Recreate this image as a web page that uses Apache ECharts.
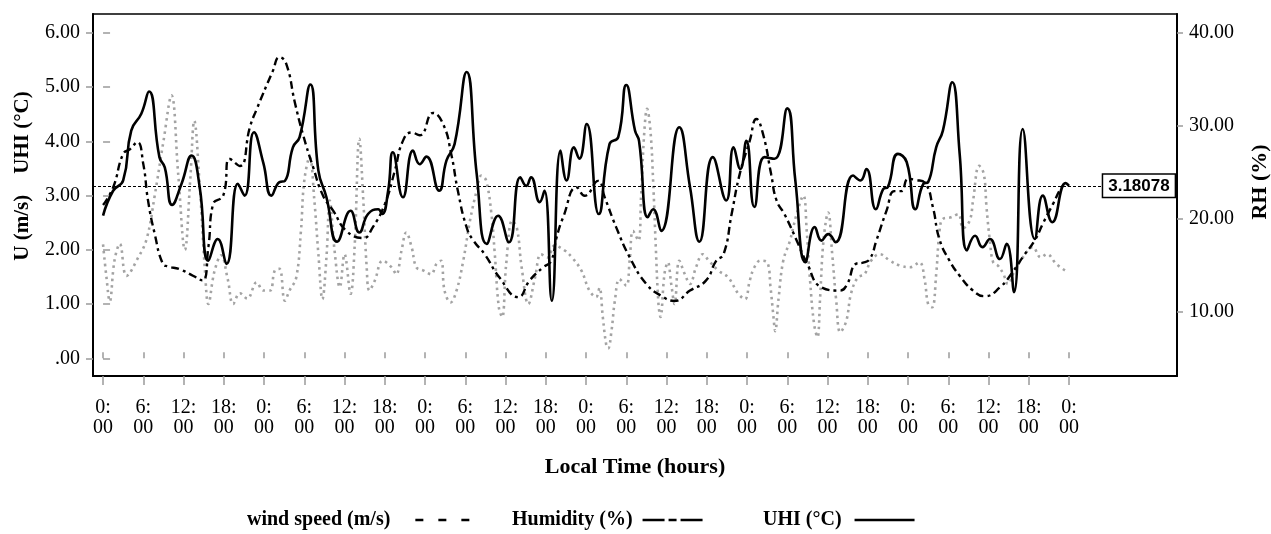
<!DOCTYPE html>
<html><head><meta charset="utf-8">
<script src="https://cdn.jsdelivr.net/npm/echarts@6/dist/echarts.min.js"></script>
<style>html,body{margin:0;padding:0;background:#fff}#c{width:1271px;height:534px}</style>
</head><body><div id="c"></div>
<script>
// ---- data (hours since start, values) ----
const uhiHours = [0,1.5,3,4.2,5.7,6.85,8.4,9.2,10.3,11.7,13.2,14.4,15.7,17.1,18.4,20.1,21.1,22.5,23.9,25.1,26.3,27.1,28.3,29.3,30.9,32.1,33.3,34.9,36.9,38.2,39.5,41,41.6,42.5,43.2,44.7,46.2,47.2,48.2,50.1,51.2,52.4,54.2,55.7,57.2,58.9,60.5,62.2,63.1,63.8,65.1,65.8,66.9,68.2,69.1,70.2,71,72.1,73.9,75.5,76.8,78,79.3,79.9,81.2,82,83.2,85.9,87.5,88.9,90.9,92.9,94,95,95.9,97.1,98.6,100.1,102,103.2,104.7,106.1,107.1,108.1,109.2,111.8,112.9,113.8,115.2,116.3,117,118.5,119.8,121.1,122.3,123,124.2,125.2,126.6,127.7,128.8,130,131.1,132.2,133.7,134.7,135.8,137.1,138.9,140.1,141.5,143.5,144];
const uhiValues = [2.63,3.09,3.28,4.2,4.51,4.92,3.71,3.52,2.83,3.22,3.74,3.16,1.8,2.2,1.74,3.22,3.0,4.17,3.6,3.0,3.25,3.27,3.89,4.08,5.05,3.46,2.97,2.15,2.72,2.32,2.66,2.75,2.66,3.09,3.8,2.97,3.83,3.58,3.72,3.09,3.65,3.95,5.28,3.4,2.11,2.63,2.14,3.34,3.18,3.34,2.88,3.09,1.06,3.83,3.28,3.89,3.68,4.32,2.66,3.95,4.08,5.04,4.2,4.01,2.6,2.75,2.35,4.26,3.16,2.15,3.71,2.91,3.89,3.49,4.01,2.79,3.71,3.68,4.61,3.28,1.77,2.42,2.17,2.29,2.14,3.37,3.28,3.49,2.75,3.12,3.16,3.77,3.62,2.75,3.22,3.25,3.89,4.2,5.09,3.77,1.99,2.26,2.05,2.2,1.83,2.11,1.22,4.23,2.2,3.0,2.51,3.23,3.18];

const rhHours = [0,1.5,3,4,5.1,6,6.7,7.7,8.9,9.7,11.4,13.4,14.8,15.7,16.4,17.9,18.9,20.4,21.9,22.9,25.3,26.3,27.3,28.6,29.8,31.3,32.8,34.3,36.3,38.8,40.2,42,43.5,44.7,46,47.2,49.2,50.7,51.9,52.9,54.2,55.2,56.9,59.1,61.9,63.6,65.6,66.8,67.6,68.6,70.6,71.8,73.8,74.8,76.5,78.5,81,83.2,85.2,87.5,89.9,91.4,92.5,93.7,94.9,96.4,97.4,98.4,99.6,100.4,101.6,103.4,104.9,107.1,109.8,110.8,112.3,113.3,114.3,115.3,116.8,118,119,120,121.2,122.6,123.7,124.7,126.2,127.7,129.7,131.4,133.7,135.7,137.1,138.9,140.1,141.6,142.9,143.6];
const rhValues = [21.5,23.4,27.0,27.5,28.25,25.9,22.0,18.4,15.2,14.9,14.6,13.9,13.4,17.0,21.6,22.5,26.45,25.7,29.9,31.8,35.9,37.4,36.7,32.5,29.1,25.6,22.5,20.9,18.7,17.96,19.1,21.6,25.2,28.4,29.3,29.0,31.4,30.2,27.0,23.0,19.1,17.7,16.2,13.7,11.6,13.4,14.8,15.5,18.0,20.2,23.4,22.5,24.1,22.3,19.1,15.9,13.0,11.75,11.2,12.3,13.4,15.5,16.2,20.5,24.8,28.4,30.75,29.1,24.8,22.0,20.5,17.7,15.3,12.65,12.3,12.8,15.2,15.3,15.7,17.7,20.9,23.0,23.0,24.3,24.2,23.8,21.3,17.8,15.5,13.9,12.3,11.7,12.65,14.4,15.9,17.7,19.5,21.6,23.4,23.8];

const windHours = [0,0.5,1,1.7,2.5,3.5,5.2,6.5,7.7,9,10.2,11.2,12.2,13,13.6,14.4,15.2,15.7,16.6,17.6,18.6,19.4,20.4,21.5,22.9,23.9,24.9,25.6,26.3,27.1,27.8,28.8,29.5,30,30.8,31.5,32.1,32.7,33.3,33.8,34.5,35.3,36,36.9,37.5,38.2,38.8,39.3,39.7,40.5,41.7,43,43.7,44.5,45.2,46,46.7,47.7,48.9,49.7,50.4,50.9,51.8,52.7,53.7,54.7,55.7,56.4,57.1,57.9,58.4,59,59.5,60.1,61,61.7,62.4,63.4,64.4,65.3,66.3,67.3,68.8,69.9,71.3,72.5,73.5,74,74.5,75,75.3,75.8,76.3,77,78,78.5,79,79.8,80.2,80.7,81.1,81.6,82,82.4,82.8,83.1,83.7,84.2,84.7,85.2,85.9,86.7,87.5,88.4,89.4,90.3,91.7,93.2,94.7,95.7,96.4,97.1,98,99,99.5,99.9,100.2,100.7,101.4,102.4,103.4,104.4,104.9,105.4,106,106.5,106.9,107.4,108.1,108.7,109.3,109.9,110.8,111.5,112.5,113.5,114.5,115.8,117.3,118.8,120.3,121.7,122.5,123,123.6,124.2,124.7,125.2,126.4,127.5,128.2,129.2,129.7,130.6,131.3,131.7,132.2,132.7,133.4,134.2,134.9,135.9,137.1,138.6,139.8,140.7,142.1,143.4];
const windValues = [2.1,1.5,1.05,1.8,2.11,1.52,1.85,2.2,3.0,4.0,4.85,3.4,2.0,3.3,4.38,3.2,1.6,1.0,1.6,1.9,1.45,1.0,1.2,1.1,1.4,1.25,1.25,1.62,1.65,1.06,1.25,1.49,2.35,3.28,3.71,2.91,1.92,1.09,1.86,2.91,2.0,1.31,1.92,1.19,2.05,4.05,2.91,1.68,1.25,1.43,1.8,1.68,1.55,1.99,2.32,2.05,1.68,1.62,1.55,1.74,1.8,1.25,1.03,1.25,1.8,2.54,3.09,3.37,3.28,2.66,1.92,0.94,0.76,1.74,2.54,2.4,1.68,1.0,1.49,1.92,1.86,2.08,1.99,1.86,1.62,1.25,1.13,1.3,0.76,0.26,0.18,0.51,1.06,1.46,1.34,1.8,2.35,2.17,2.97,4.2,4.6,4.2,3.28,2.05,1.0,0.76,1.56,1.77,1.37,1.0,1.8,1.56,1.37,1.68,1.92,1.8,1.62,1.49,1.19,1.09,1.43,1.68,1.8,1.77,1.31,0.82,0.5,1.1,1.8,2.17,2.66,3.0,2.35,1.43,0.63,0.39,1.13,2.17,2.69,1.92,1.06,0.48,0.69,1.19,1.49,1.55,1.8,1.92,1.8,1.71,1.68,1.77,1.43,1.0,0.94,1.55,2.35,2.57,2.6,2.66,2.4,2.54,2.91,3.55,3.4,2.79,2.17,1.77,1.71,1.56,1.37,1.62,1.86,2.05,1.86,1.92,1.74,1.62];

const refValue = 3.18078;
const refLineEndHour = 149.1;

// ---- tick labels ----
const xTickHours = [0,6,12,18,24,30,36,42,48,54,60,66,72,78,84,90,96,102,108,114,120,126,132,138,144];
const xTickLabels = ['0:\n00','6:\n00','12:\n00','18:\n00','0:\n00','6:\n00','12:\n00','18:\n00','0:\n00','6:\n00','12:\n00','18:\n00','0:\n00','6:\n00','12:\n00','18:\n00','0:\n00','6:\n00','12:\n00','18:\n00','0:\n00','6:\n00','12:\n00','18:\n00','0:\n00'];
const leftTickValues = [0,1,2,3,4,5,6];
const leftTickLabels = ['.00','1.00','2.00','3.00','4.00','5.00','6.00'];
const rightTickValues = [10,20,30,40];
const rightTickLabels = ['10.00','20.00','30.00','40.00'];

const serif = "'Liberation Serif','Times New Roman',serif";
const zip = (xs, ys) => xs.map((x, i) => [x, ys[i]]);
const X_MIN = -1.5, X_MAX = 160.1;
const L_MIN = -0.327, L_MAX = 6.35;
const R_MIN = 3.12, R_MAX = 42.04;
const tickGrey = '#9a9a9a';
const noSymbol = {color: 'rgba(0,0,0,0)', borderColor: 'rgba(0,0,0,0)', borderWidth: 0, opacity: 0};

const chart = echarts.init(document.getElementById('c'));
const legendText = {fontFamily: serif, fontWeight: 'bold', fontSize: 20, color: '#000'};
chart.setOption({
  animation: false,
  backgroundColor: '#fff',
  grid: {left: 93, right: 94, top: 14, bottom: 158, outerBoundsMode: 'none', containLabel: false,
         show: true, borderColor: '#000', borderWidth: 1.5, backgroundColor: 'transparent'},
  xAxis: [{
    type: 'value', min: X_MIN, max: X_MAX,
    name: 'Local Time (hours)', nameLocation: 'middle', nameGap: 80,
    nameTextStyle: {fontFamily: serif, fontWeight: 'bold', fontSize: 22, color: '#000'},
    axisLine: {show: true, onZero: false, lineStyle: {color: '#000', width: 2}},
    axisTick: {show: true, customValues: xTickHours, length: 9, lineStyle: {color: tickGrey, width: 1.5}},
    axisLabel: {customValues: xTickHours, formatter: v => xTickLabels[xTickHours.indexOf(v)], fontFamily: serif, fontSize: 20, color: '#000', lineHeight: 20, margin: 22},
    splitLine: {show: false}
  }, {
    type: 'value', min: X_MIN, max: X_MAX, position: 'bottom',
    axisLine: {show: false},
    axisTick: {show: true, inside: true, customValues: xTickHours, length: 6, lineStyle: {color: tickGrey, width: 1.5}},
    axisLabel: {show: false}, splitLine: {show: false}
  }],
  yAxis: [{
    type: 'value', position: 'left', min: L_MIN, max: L_MAX,
    name: 'U (m/s)    UHI (°C)', nameLocation: 'middle', nameGap: 60, nameRotate: 90,
    nameTextStyle: {fontFamily: serif, fontWeight: 'bold', fontSize: 21, color: '#000', padding: [0, 0, 0, 38]},
    axisLine: {show: true, onZero: false, lineStyle: {color: '#000', width: 2}},
    axisTick: {show: true, customValues: leftTickValues, length: 7, lineStyle: {color: tickGrey, width: 1.5}},
    axisLabel: {customValues: leftTickValues, formatter: v => leftTickLabels[leftTickValues.indexOf(v)], fontFamily: serif, fontSize: 20, color: '#000', margin: 13},
    splitLine: {show: false}
  }, {
    type: 'value', position: 'right', min: R_MIN, max: R_MAX,
    name: 'RH (%)', nameLocation: 'middle', nameGap: 72, nameRotate: 90,
    nameTextStyle: {fontFamily: serif, fontWeight: 'bold', fontSize: 22, color: '#000', padding: [0, 0, 0, 26]},
    axisLine: {show: true, onZero: false, lineStyle: {color: '#000', width: 2}},
    axisTick: {show: true, customValues: rightTickValues, length: 6, lineStyle: {color: tickGrey, width: 1.5}},
    axisLabel: {customValues: rightTickValues, formatter: v => rightTickLabels[rightTickValues.indexOf(v)], fontFamily: serif, fontSize: 20, color: '#000', margin: 12},
    splitLine: {show: false}
  }, {
    type: 'value', position: 'left', min: L_MIN, max: L_MAX,
    axisLine: {show: false},
    axisTick: {show: true, inside: true, customValues: leftTickValues, length: 7, lineStyle: {color: tickGrey, width: 1.5}},
    axisLabel: {show: false}, splitLine: {show: false}
  }],
  legend: [
    {left: 247, top: 510, padding: 0, align: 'right', selectedMode: false, itemWidth: 55, itemHeight: 14,
     textStyle: Object.assign({padding: [0, 20, 0, 0]}, legendText),
     data: [{name: 'wind speed (m/s)', itemStyle: noSymbol, lineStyle: {color: '#000', type: [8, 15], width: 2.5}}]},
    {left: 512, top: 510, padding: 0, align: 'right', selectedMode: false, itemWidth: 60, itemHeight: 14,
     textStyle: Object.assign({padding: [0, 5, 0, 0]}, legendText),
     data: [{name: 'Humidity (%)', itemStyle: noSymbol, lineStyle: {color: '#000', type: [22, 4, 8, 4], width: 2.5}}]},
    {left: 763, top: 510, padding: 0, align: 'right', selectedMode: false, itemWidth: 60, itemHeight: 14,
     textStyle: Object.assign({padding: [0, 8, 0, 0]}, legendText),
     data: [{name: 'UHI (°C)', itemStyle: noSymbol, lineStyle: {color: '#000', type: 'solid', width: 2.5}}]}
  ],
  series: [{
    name: 'wind speed (m/s)', type: 'line', xAxisIndex: 0, yAxisIndex: 0,
    data: zip(windHours, windValues), smooth: 0.4, symbol: 'none', showSymbol: false,
    itemStyle: {color: '#a3a3a3'},
    lineStyle: {color: '#a3a3a3', width: 2.6, type: [2.5, 4]}, z: 2
  }, {
    name: 'Humidity (%)', type: 'line', xAxisIndex: 0, yAxisIndex: 1,
    data: zip(rhHours, rhValues), smooth: 0.5, symbol: 'none', showSymbol: false,
    itemStyle: {color: '#000'},
    lineStyle: {color: '#000', width: 2.4, type: [8, 4, 3, 4]}, z: 3
  }, {
    name: 'UHI (°C)', type: 'line', xAxisIndex: 0, yAxisIndex: 0,
    data: zip(uhiHours, uhiValues), smooth: 0.5, symbol: 'none', showSymbol: false,
    itemStyle: {color: '#000'},
    lineStyle: {color: '#000', width: 2.6}, z: 4,
    markLine: {
      silent: true, symbol: ['none', 'none'], animation: false,
      lineStyle: {color: '#000', type: [3, 2], width: 1.2},
      label: {show: true, position: 'end', distance: 0, formatter: '{c}',
        fontFamily: "'Liberation Sans',Arial,sans-serif", fontWeight: 'bold', fontSize: 17, color: '#000',
        backgroundColor: '#fff', borderColor: '#000', borderWidth: 1.5, padding: [3, 5, 2, 5]},
      data: [[{coord: [X_MIN, refValue], value: refValue}, {coord: [refLineEndHour, refValue]}]]
    }
  }]
});
</script>
</body></html>
